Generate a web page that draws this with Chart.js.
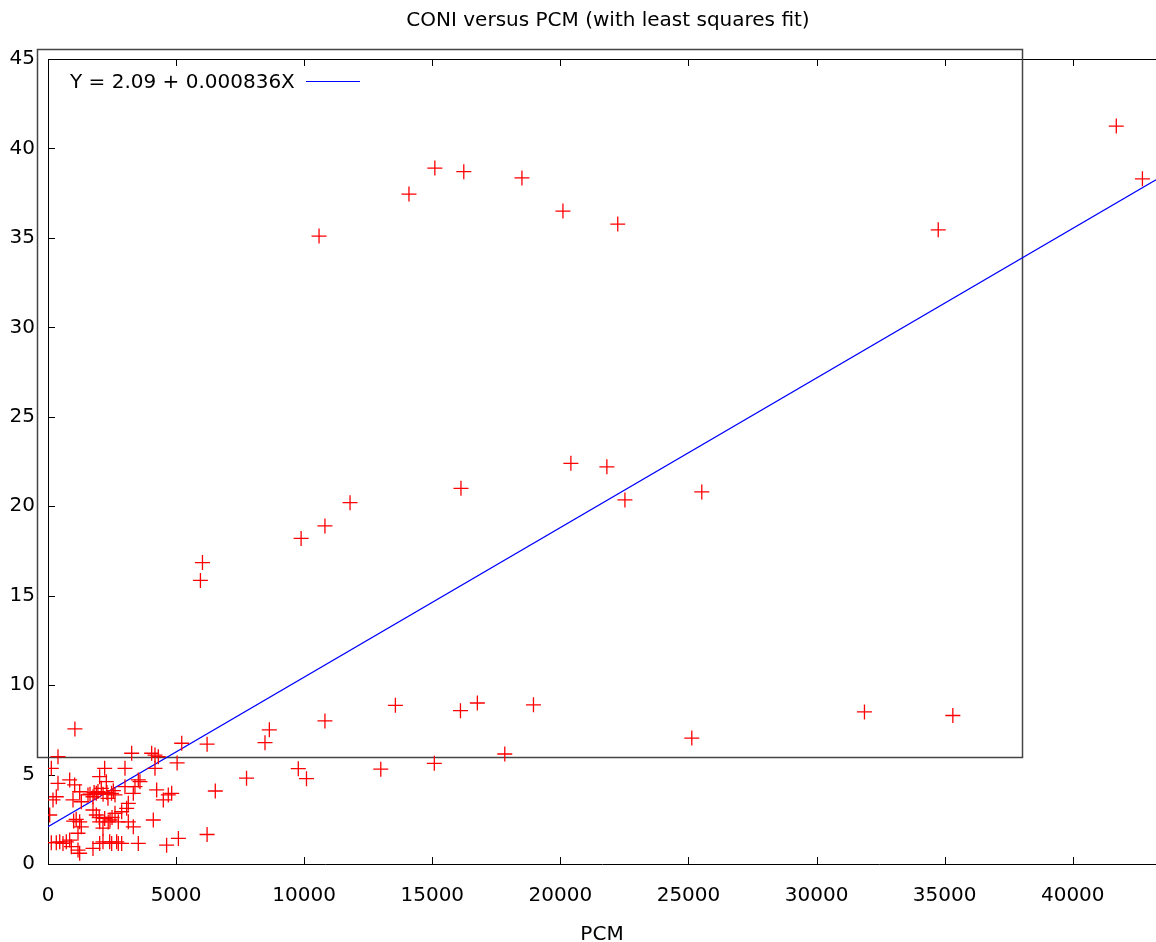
<!DOCTYPE html>
<html>
<head>
<meta charset="utf-8">
<script src="https://cdn.jsdelivr.net/npm/chart.js@4/dist/chart.umd.min.js"></script>
<style>
  html, body { margin: 0; padding: 0; background: #fff; }
  #wrap { width: 1156px; height: 942px; }
</style>
</head>
<body>
<div id="wrap"><canvas id="chart" width="1156" height="942"></canvas></div>
<script>
const pcm = [
  41700, 42720, 34750, 15100, 16230, 18500, 14090, 20100, 22240, 10580,
  20410, 21815, 16120, 22520, 25520, 11790, 10810, 9880, 6030, 5950,
  13560, 16760, 18950, 16100, 10810, 31870, 35320, 8640, 8470, 25130,
  1050, 9770, 10090, 12990, 15080, 17830, 7750, 6530, 5220, 6210,
  5040, 6210, 5090, 4630,
  390, 130, 390, 846, 1041, 324, 195, 66, 976, 1236,
  1301, 1561, 1756, 1886, 2081, 2017, 2212, 2276, 2341, 1236,
  1301, 1756, 1886, 2017, 2212, 2146, 1171,
  129, 324, 457, 585, 715, 846, 911, 1171, 1236, 1756, 2017, 2146, 2407,
  3266, 4046, 4176, 4306, 3005, 4176, 3525, 3395, 3005, 2615,
  4241, 4696, 4827, 4501, 3330, 3135, 3070, 2875, 2615, 2420,
  2745, 3135, 3330, 4111, 3590,
  2485, 2680, 2745, 2875, 3525,
  1640, 1950, 2150, 2480, 2550, 2300, 1800, 2000, 2350, 2500, 1000, 1100
];
const coni = [
  41.25, 38.3, 35.45, 38.9, 38.7, 38.35, 37.45, 36.5, 35.77, 35.1,
  22.4, 22.2, 21.0, 20.35, 20.8, 20.2, 18.9, 18.2, 16.85, 15.85,
  8.87, 9.0, 8.9, 8.57, 8.0, 8.5, 8.3, 7.5, 6.78, 7.04,
  7.55, 5.33, 4.77, 5.3, 5.63, 6.15, 4.8, 4.08, 6.75, 6.7,
  5.65, 1.65, 1.43, 1.05,
  6.0, 5.35, 4.51, 4.7, 4.42, 3.76, 3.58, 2.74, 3.58, 4.04,
  3.48, 3.86, 3.76, 3.95, 4.23, 4.88, 5.35, 4.6, 3.67, 2.36,
  2.08, 3.02, 2.74, 2.36, 2.55, 2.0, 1.72,
  1.19, 1.19, 1.24, 1.15, 1.24, 1.34, 0.97, 0.78, 0.6, 0.87, 1.15, 1.24, 1.24,
  6.19, 6.19, 6.09, 6.0, 5.35, 5.35, 4.7, 4.32, 4.32, 3.86,
  4.14, 3.86, 3.95, 3.58, 3.95, 3.39, 3.11, 2.92, 2.83, 2.46,
  2.36, 2.36, 2.08, 2.46, 4.6,
  1.15, 1.24, 1.15, 1.15, 1.15,
  3.9, 4.05, 3.9, 3.95, 4.1, 4.0, 4.0, 2.6, 2.35, 2.6, 2.4, 2.5
];

// least squares fit Y = 2.09 + 0.000836X, ends of the drawn segment
const fitPcm = [0, 43250];
const fitConi = [2.09, 38.25];
const fitLabel = 'Y = 2.09 + 0.000836X';

const xTickValues = [0, 5000, 10000, 15000, 20000, 25000, 30000, 35000, 40000];
const yTickValues = [0, 5, 10, 15, 20, 25, 30, 35, 40, 45];

const FONT = "'DejaVu Sans', sans-serif";

const points = pcm.map((x, i) => ({ x: x, y: coni[i] }));
const fitLine = fitPcm.map((x, i) => ({ x: x, y: fitConi[i] }));

// gnuplot look: inward ticks, top border, odd outer frame, key and title
const gnuplotLook = {
  id: 'gnuplotLook',
  beforeDatasetsDraw(chart) {
    const ctx = chart.ctx;
    const area = chart.chartArea;
    const xs = chart.scales.x, ys = chart.scales.y;
    ctx.save();
    ctx.strokeStyle = '#000';
    ctx.lineWidth = 1;
    ctx.beginPath();
    ctx.moveTo(area.left, area.top + 0.5);
    ctx.lineTo(area.right, area.top + 0.5);
    xTickValues.forEach(v => {
      const px = Math.round(xs.getPixelForValue(v)) + 0.5;
      ctx.moveTo(px, area.bottom);
      ctx.lineTo(px, area.bottom - 7);
      ctx.moveTo(px, area.top);
      ctx.lineTo(px, area.top + 7);
    });
    yTickValues.forEach(v => {
      const py = Math.round(ys.getPixelForValue(v)) + 0.5;
      ctx.moveTo(area.left, py);
      ctx.lineTo(area.left + 7, py);
    });
    ctx.stroke();

    // outer frame
    ctx.strokeStyle = '#444';
    ctx.lineWidth = 1.5;
    ctx.strokeRect(37.5, 49.5, 985, 708);

    // key
    ctx.fillStyle = '#000';
    ctx.font = '20px ' + FONT;
    ctx.textAlign = 'left';
    ctx.textBaseline = 'middle';
    ctx.fillText(fitLabel, 70, 83);
    ctx.strokeStyle = '#0000ff';
    ctx.lineWidth = 1;
    ctx.beginPath();
    ctx.moveTo(306, 81.5);
    ctx.lineTo(360, 81.5);
    ctx.stroke();

    // title
    ctx.textAlign = 'center';
    ctx.fillText('CONI versus PCM (with least squares fit)', 608, 21);
    ctx.restore();
  }
};

new Chart(document.getElementById('chart'), {
  type: 'scatter',
  data: {
    datasets: [
      {
        data: points,
        showLine: false,
        pointStyle: 'cross',
        pointRadius: 7.5,
        pointHoverRadius: 7.5,
        borderColor: '#ff0000',
        backgroundColor: '#ff0000',
        pointBorderWidth: 1.3
      },
      {
        type: 'line',
        data: fitLine,
        showLine: true,
        borderColor: '#0000ff',
        borderWidth: 1.2,
        pointRadius: 0,
        fill: false,
        tension: 0
      }
    ]
  },
  options: {
    responsive: false,
    animation: false,
    layout: { autoPadding: false, padding: { top: 59, right: 0, left: 0, bottom: 0 } },
    plugins: {
      legend: { display: false },
      tooltip: { enabled: false },
      title: { display: false }
    },
    scales: {
      x: {
        type: 'linear',
        min: 0,
        max: 43250,
        grid: { display: false, drawTicks: false },
        border: { display: true, color: '#000', width: 1 },
        afterBuildTicks(scale) {
          scale.ticks = xTickValues.map(v => ({ value: v }));
        },
        ticks: {
          maxRotation: 0,
          autoSkip: false,
          color: '#000',
          padding: 20,
          font: { family: FONT, size: 20 },
          callback: (v) => String(v)
        },
        title: {
          display: true,
          text: 'PCM',
          color: '#000',
          padding: { top: 0, bottom: -5 },
          font: { family: FONT, size: 20 }
        },
        afterFit(scale) {
          scale.height = 78;
          scale.paddingLeft = 0;
          scale.paddingRight = 0;
        }
      },
      y: {
        min: 0,
        max: 45,
        grid: { display: false, drawTicks: false },
        border: { display: true, color: '#000', width: 1 },
        afterBuildTicks(scale) {
          scale.ticks = yTickValues.map(v => ({ value: v }));
        },
        ticks: {
          color: '#000',
          padding: 13,
          font: { family: FONT, size: 20 },
          callback: (v) => String(v)
        },
        afterFit(scale) {
          scale.width = 48;
          scale.paddingTop = 0;
          scale.paddingBottom = 0;
        }
      }
    }
  },
  plugins: [gnuplotLook]
});
</script>
</body>
</html>
